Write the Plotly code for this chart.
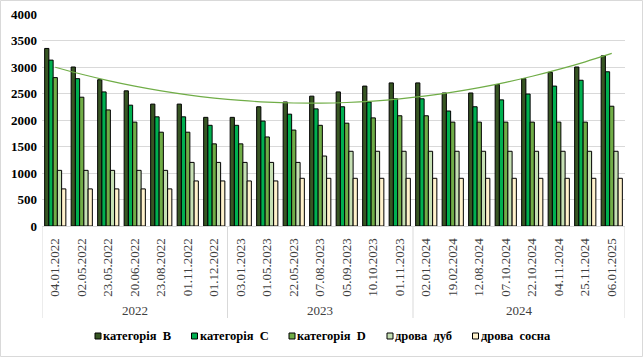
import numpy as np
import plotly.graph_objects as go

years = ["2022"] * 7 + ["2023"] * 7 + ["2024"] * 8
dates = ["04.01.2022", "02.05.2022", "23.05.2022", "20.06.2022", "23.08.2022", "01.11.2022", "01.12.2022",
         "03.01.2023", "01.05.2023", "22.05.2023", "07.08.2023", "05.09.2023", "10.10.2023", "01.11.2023",
         "02.01.2024", "19.02.2024", "12.08.2024", "07.10.2024", "22.10.2024", "04.11.2024", "25.11.2024", "06.01.2025"]

cat_b = [3350, 3000, 2760, 2550, 2300, 2300, 2050, 2050, 2250, 2340, 2450, 2530, 2640, 2700,
         2700, 2510, 2510, 2670, 2780, 2900, 3000, 3210]
cat_c = [3130, 2780, 2530, 2280, 2060, 2060, 1900, 1900, 1980, 2110, 2210, 2250, 2340, 2400,
         2400, 2170, 2250, 2380, 2490, 2640, 2750, 2910]
cat_d = [2800, 2430, 2190, 1960, 1770, 1770, 1550, 1550, 1680, 1810, 1900, 1940, 2040, 2080,
         2080, 1960, 1960, 1960, 1960, 1960, 1960, 2260]
oak = [1050, 1050, 1050, 1050, 1050, 1200, 1200, 1200, 1200, 1200, 1320, 1410, 1410, 1410,
       1410, 1410, 1410, 1410, 1410, 1410, 1410, 1410]
pine = [700, 700, 700, 700, 700, 850, 850, 850, 850, 900, 900, 900, 900, 900,
        900, 900, 900, 900, 900, 900, 900, 900]

names = ["категорія  B", "категорія  C", "категорія  D", "дрова  дуб", "дрова  сосна"]
colors = ["#375623", "#00B050", "#70AD47", "#C6E0B4", "#FFF2CC"]
series = [cat_b, cat_c, cat_d, oak, pine]

SERIF = "Liberation Serif, Times New Roman, serif"

fig = go.Figure()
for nm, col, vals in zip(names, colors, series):
    fig.add_trace(go.Bar(x=dates, y=vals, name=nm, showlegend=False,
                         marker=dict(color=col, line=dict(color="#000000", width=1))))

# polynomial (order 2) trendline of category B
idx = np.arange(len(cat_b))
coef = np.polyfit(idx, cat_b, 2)
trend = np.polyval(coef, idx)
fig.add_trace(go.Scatter(x=dates, y=trend, mode="lines", line=dict(color="#70AD47", width=1.2, shape="spline"),
                         showlegend=False, hoverinfo="skip"))

W, H = 643, 357
l, r, t, b = 42, 18, 14, 131
pw, ph = W - l - r, H - t - b


def px_x(p):
    return (p - l) / pw


def px_y(p):
    return (H - b - p) / ph


# outer chart border
fig.add_shape(type="rect", xref="paper", yref="paper",
              x0=px_x(0.5), x1=px_x(W - 0.5), y0=px_y(H - 0.5), y1=px_y(0.5),
              line=dict(color="#D9D9D9", width=1), layer="below")

# year groups: dividers and labels (second level of the category axis)
groups = []
for i, yv in enumerate(years):
    if not groups or groups[-1][0] != yv:
        groups.append([yv, i, i])
    else:
        groups[-1][2] = i
bounds = [g[1] - 0.5 for g in groups] + [groups[-1][2] + 0.5]
for bx in bounds:
    fig.add_shape(type="line", xref="x", yref="paper", x0=bx, x1=bx, y0=0, y1=px_y(318),
                  line=dict(color="#D9D9D9", width=1))
for yv, i0, i1 in groups:
    fig.add_annotation(xref="x", yref="paper", x=(i0 + i1) / 2, y=px_y(310), showarrow=False,
                       xanchor="center", yanchor="middle", text=yv,
                       font=dict(family=SERIF, size=13, color="#404040"))

# legend (Excel-style small squares beside bold labels)
leg_x = [95, 191.5, 289, 387, 472.5]
leg_y = 336
sq = 6
for nm, col, lx in zip(names, colors, leg_x):
    fig.add_shape(type="rect", xref="paper", yref="paper",
                  x0=px_x(lx), x1=px_x(lx + sq), y0=px_y(leg_y + sq / 2), y1=px_y(leg_y - sq / 2),
                  fillcolor=col, line=dict(color="#000000", width=1))
    fig.add_annotation(xref="paper", yref="paper", x=px_x(lx + sq + 1), y=px_y(leg_y),
                       xanchor="left", yanchor="middle", showarrow=False, text="<b>" + nm + "</b>",
                       font=dict(family=SERIF, size=12.5, color="#000000"), borderpad=0)

fig.update_layout(
    width=W, height=H, margin=dict(l=l, r=r, t=t, b=b, autoexpand=False),
    paper_bgcolor="white", plot_bgcolor="white",
    barmode="group", bargap=0.2, bargroupgap=0,
    font=dict(family=SERIF, color="#000000"),
    showlegend=False,
    xaxis=dict(type="category", tickangle=-90, automargin=False, range=[-0.5, len(dates) - 0.5],
               tickfont=dict(family=SERIF, size=13, color="#404040"),
               showline=True, linecolor="#D9D9D9", ticks="", ticklabelstandoff=6),
    yaxis=dict(range=[0, 4000], dtick=500, showgrid=True, gridcolor="#D9D9D9", gridwidth=1, automargin=False,
               tickfont=dict(family=SERIF, size=13, weight="bold", color="#000000"),
               zeroline=False, showline=False, ticks="", ticklabelstandoff=4),
)
fig.write_html("out.html", config={"displayModeBar": False},
               post_script="document.body.style.margin='0';")
